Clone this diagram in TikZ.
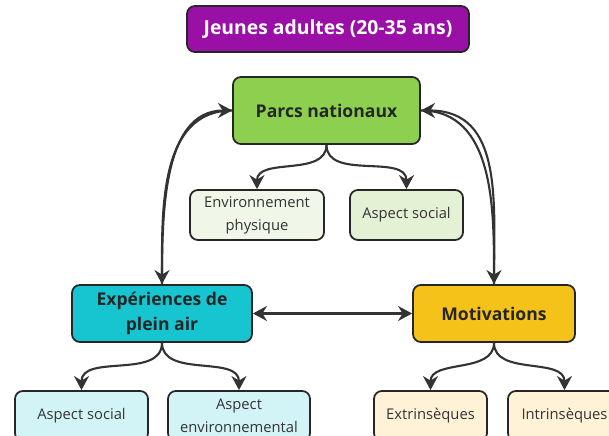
\documentclass[tikz,border=0pt]{standalone}
\usepackage{fontspec}
\setmainfont{Open Sans}
\usetikzlibrary{arrows.meta}

\definecolor{titlepurple}{HTML}{9A10A6}
\definecolor{parcgreen}{HTML}{8DD04F}
\definecolor{expteal}{HTML}{16C5D0}
\definecolor{motivgold}{HTML}{F5C21A}
\definecolor{envfill}{HTML}{F0F7E8}
\definecolor{socfill}{HTML}{E3F2D5}
\definecolor{tealfill}{HTML}{D3F4F7}
\definecolor{goldfill}{HTML}{FFF2D6}
\definecolor{linegray}{HTML}{333333}

\tikzset{
  box/.style={draw=black!85, line width=1pt, rounded corners=4.5pt, align=center,
    inner sep=2pt, font=\fontsize{8.4}{13}\selectfont, text=black!80},
  mainbox/.style={box, font=\fontsize{10}{14}\selectfont\bfseries, text=black!85},
  link/.style={draw=linegray, line width=1.2pt, -{Stealth[length=8pt,width=8.5pt]}}
}

\begin{document}
\begin{tikzpicture}
  \clip (0,0) rectangle (12.18,8.72);
  % top
  \node[mainbox, fill=titlepurple, text=white, font=\fontsize{11}{14}\selectfont\bfseries,
    minimum width=5.64cm, minimum height=0.92cm] (title) at (6.56,8.14) {Jeunes adultes (20-35 ans)};
  \node[mainbox, fill=parcgreen, minimum width=3.74cm, minimum height=1.34cm] (parcs) at (6.53,6.51) {Parcs nationaux};
  \node[box, fill=envfill, minimum width=2.68cm, minimum height=1cm] (envphys) at (5.14,4.42) {Environnement\\physique};
  \node[box, fill=socfill, minimum width=2.26cm, minimum height=1cm] (socparcs) at (8.13,4.42) {Aspect social};
  % middle
  \node[mainbox, fill=expteal, minimum width=3.6cm, minimum height=1.14cm] (exp) at (3.24,2.45) {Expériences de\\plein air};
  \node[mainbox, fill=motivgold, minimum width=3.24cm, minimum height=1.14cm] (motiv) at (9.88,2.45) {Motivations};
  % bottom
  \node[box, fill=tealfill, minimum width=2.66cm, minimum height=1cm] (socexp) at (1.63,0.4) {Aspect social};
  \node[box, fill=tealfill, minimum width=2.84cm, minimum height=1cm] (envexp) at (4.78,0.4) {Aspect\\environnemental};
  \node[box, fill=goldfill, minimum width=2.26cm, minimum height=1cm] (extr) at (8.61,0.4) {Extrinsèques};
  \node[box, fill=goldfill, minimum width=2.26cm, minimum height=1cm] (intr) at (11.29,0.4) {Intrinsèques};

  % branches
  \draw[link] (parcs.south) to[out=-90,in=90] (envphys.north);
  \draw[link] (parcs.south) to[out=-90,in=90] (socparcs.north);
  \draw[link] (exp.south) to[out=-90,in=90] (socexp.north);
  \draw[link] (exp.south) to[out=-90,in=90] (envexp.north);
  \draw[link] (motiv.south) to[out=-90,in=90] (extr.north);
  \draw[link] (motiv.south) to[out=-90,in=90] (intr.north);

  % links between main boxes
  \draw[link] (parcs.west) to[out=180,in=90] (exp.north);
  \draw[link] (exp.north) to[out=90,in=180,looseness=0.95] (parcs.west);
  \draw[link] (parcs.east) to[out=0,in=90] (motiv.north);
  \draw[link] (motiv.north) to[out=90,in=0,looseness=1.12] (parcs.east);
  \draw[link, {Stealth[length=8pt,width=8.5pt]}-{Stealth[length=8pt,width=8.5pt]}] (exp.east) -- (motiv.west);
\end{tikzpicture}
\end{document}
